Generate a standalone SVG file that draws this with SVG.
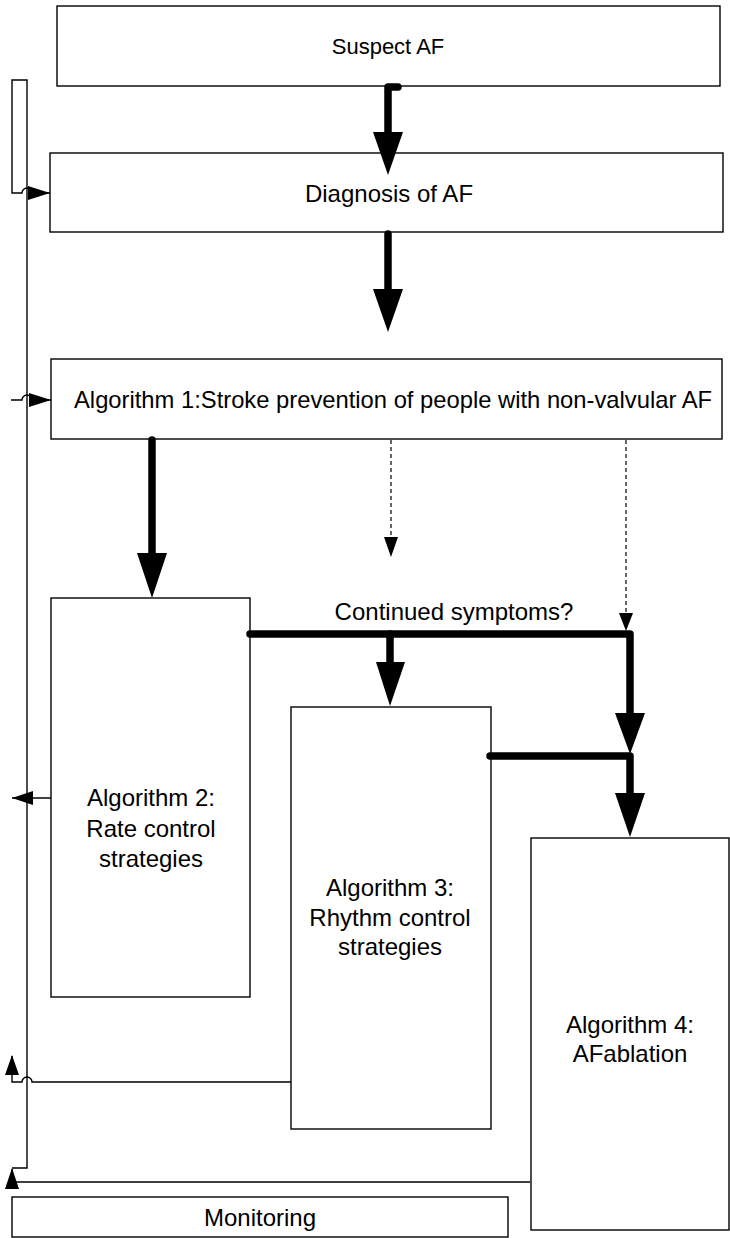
<svg xmlns="http://www.w3.org/2000/svg" width="730" height="1238" viewBox="0 0 730 1238">
<style>
.box{fill:#fff;stroke:#000;stroke-width:1.4}
.t{font-family:"Liberation Sans",Arial,sans-serif;font-size:24px;fill:#000;text-anchor:middle}
.thin{fill:none;stroke:#000;stroke-width:1.4}
.thick{fill:none;stroke:#000;stroke-width:7.5;stroke-linecap:round;stroke-linejoin:round}
.dash{fill:none;stroke:#000;stroke-width:1.2;stroke-dasharray:4 3}
.head{fill:#000;stroke:none}
</style>
<rect width="730" height="1238" fill="#fff"/>
<g id="suspect">
<rect class="box" x="57" y="6" width="663" height="80"/>
<text class="t" x="388" y="54" style="font-size:22px">Suspect AF</text>
</g>
<g id="diagnosis">
<rect class="box" x="50" y="153" width="673" height="79"/>
<text class="t" x="389" y="202">Diagnosis of AF</text>
</g>
<g id="alg1">
<rect class="box" x="51" y="359" width="671" height="80"/>
<text class="t" x="393" y="408" textLength="638" lengthAdjust="spacingAndGlyphs">Algorithm 1:Stroke prevention of people with non-valvular AF</text>
</g>
<g id="alg2">
<rect class="box" x="51" y="598" width="199" height="399"/>
<text class="t" x="151" y="806">Algorithm 2:</text>
<text class="t" x="151" y="837">Rate control</text>
<text class="t" x="151" y="867">strategies</text>
</g>
<g id="alg3">
<rect class="box" x="291" y="707" width="200" height="422"/>
<text class="t" x="390" y="896">Algorithm 3:</text>
<text class="t" x="390" y="926">Rhythm control</text>
<text class="t" x="390" y="955">strategies</text>
</g>
<g id="alg4">
<rect class="box" x="531" y="838" width="198" height="392"/>
<text class="t" x="630" y="1033">Algorithm 4:</text>
<text class="t" x="630" y="1062">AFablation</text>
</g>
<g id="monitoring">
<rect class="box" x="12" y="1197" width="496" height="40"/>
<text class="t" x="260" y="1226">Monitoring</text>
</g>
<text class="t" x="454" y="620">Continued symptoms?</text>
<g id="connectors">
<path class="thin" d="M12,1168 L27,1168 L27,80 L12,80 L12,193 L22,193 A5,5 0 0 1 32,193 L50,193"/>
<polygon class="head" points="50,193 28,186 28,200"/>
<path class="thin" d="M11,400 L22,400 A5,5 0 0 1 32,400 L51,400"/>
<polygon class="head" points="51,400 29,393 29,407"/>
<path class="thin" d="M51,798 L12,798"/>
<polygon class="head" points="12,798 33,791 33,805"/>
<path class="thin" d="M291,1082 L32,1082 A5,5 0 0 0 22,1082 L12,1082 L12,1056"/>
<polygon class="head" points="12,1055 5,1075 19,1075"/>
<path class="thin" d="M530,1182 L12,1182 L12,1169"/>
<polygon class="head" points="12,1168 5,1189 19,1189"/>
<path class="thick" d="M398,87 L388,87 L388,135"/>
<polygon class="head" points="373,132 403,132 388,175"/>
<path class="thick" d="M388,234 L388,292"/>
<polygon class="head" points="373,289 403,289 388,332"/>
<path class="thick" d="M152,440 L152,556"/>
<polygon class="head" points="137,553 167,553 152,598"/>
<path class="thick" d="M250,634 L630,634 L630,716"/>
<polygon class="head" points="615,713 645,713 630,754"/>
<path class="thick" d="M390,634 L390,665"/>
<polygon class="head" points="376,662 405,662 390,706"/>
<path class="thick" d="M490,756 L630,756 L630,796"/>
<polygon class="head" points="615,793 645,793 630,837"/>
<path class="dash" d="M391,440 L391,538"/>
<polygon class="head" points="384,537 398,537 391,557"/>
<path class="dash" d="M626,440 L626,614"/>
<polygon class="head" points="619,613 633,613 626,631"/>
</g>
</svg>
